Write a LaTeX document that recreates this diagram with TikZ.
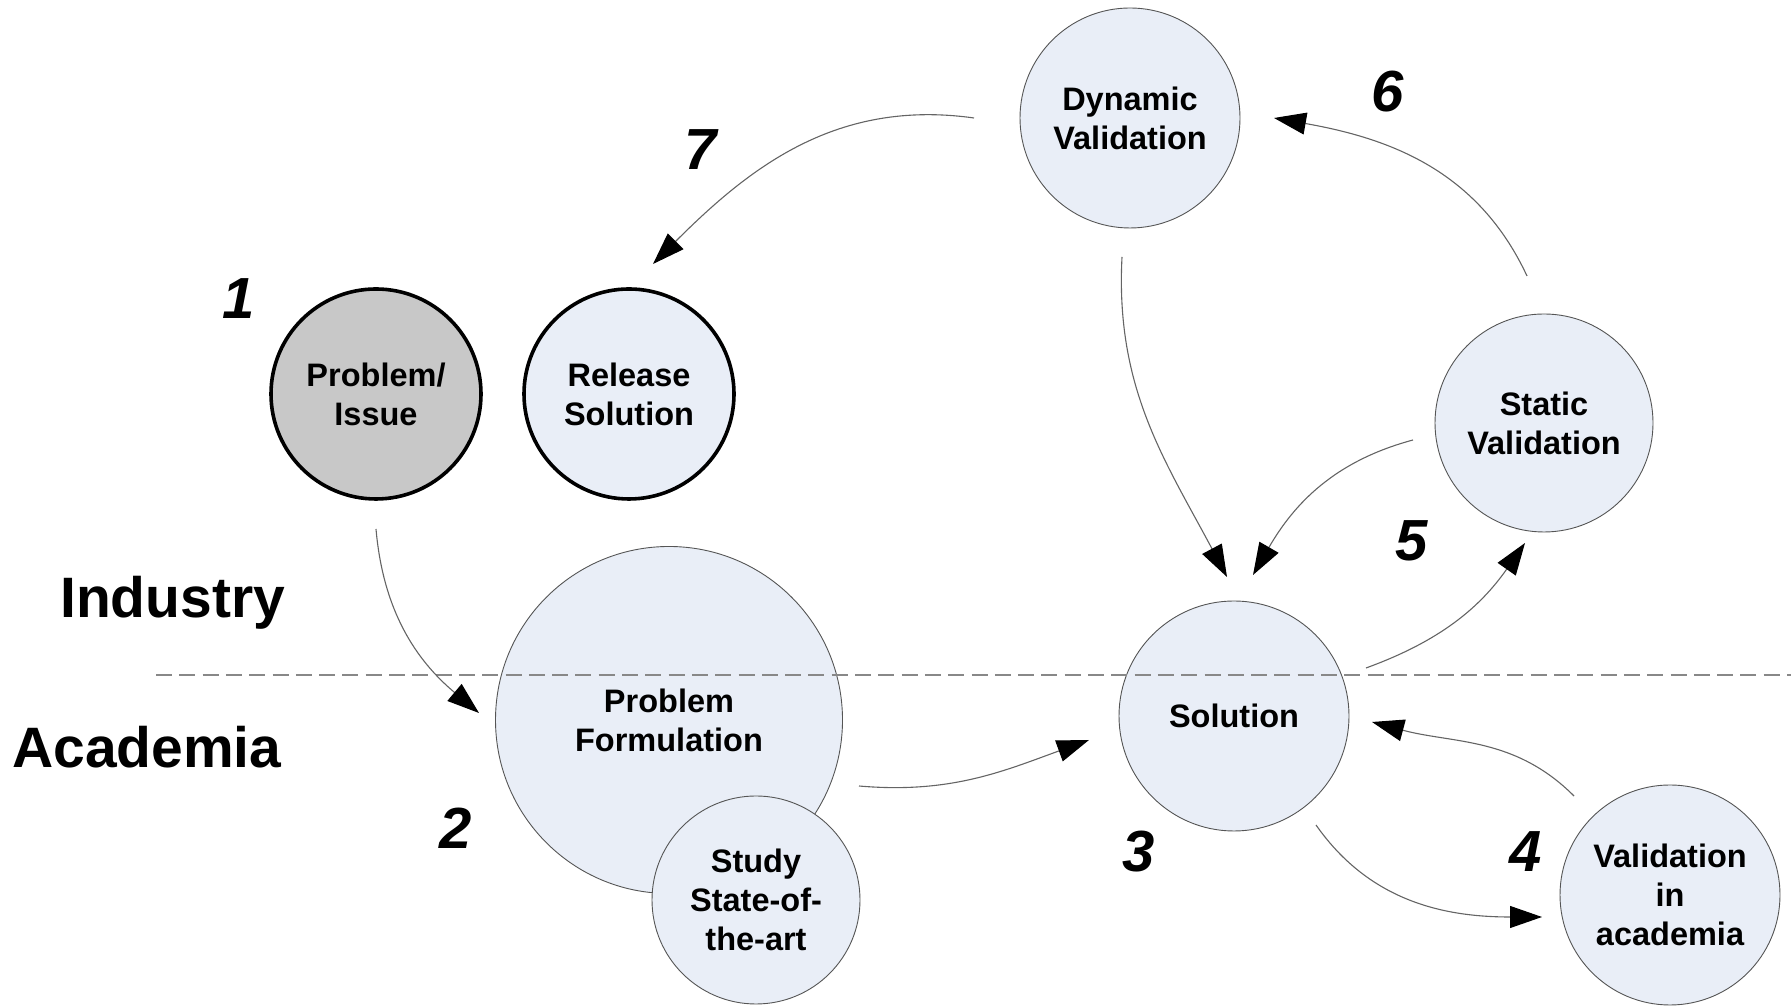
\documentclass[tikz,border=0pt]{standalone}
\usepackage{fontspec}
\setmainfont{Liberation Sans}
\usetikzlibrary{arrows.meta,calc}
\definecolor{cellfill}{RGB}{233,238,247}
\definecolor{issuefill}{RGB}{200,200,200}
\definecolor{rimgray}{RGB}{85,85,85}
\definecolor{linkgray}{RGB}{100,100,100}
\definecolor{splitgray}{RGB}{136,136,136}
\tikzset{
  phase/.style={circle, draw=rimgray, line width=0.9pt, fill=cellfill, inner sep=0pt,
    align=center, font=\fontsize{32.5}{39}\selectfont\bfseries},
  keyphase/.style={phase, draw=black, line width=3.6pt},
  stepno/.style={font=\fontsize{58}{58}\selectfont\bfseries\itshape, inner sep=0pt},
  realm/.style={font=\fontsize{57}{57}\selectfont\bfseries, inner sep=0pt, anchor=base west},
  link/.style={draw=linkgray, line width=1.1pt, -{Triangle[length=32pt,width=22pt,fill=black,color=black]}},
  split/.style={draw=splitgray, line width=2pt, dash pattern=on 16pt off 7.3pt}
}
\begin{document}
\begin{tikzpicture}[x=1pt,y=1pt]
\useasboundingbox (0,0) rectangle (1791,1008);

% process steps
\node[keyphase, fill=issuefill, minimum size=210pt] (issue) at (376,614) {Problem/\\Issue};
\node[keyphase, minimum size=210pt] (release) at (629,614) {Release\\Solution};
\node[phase, minimum size=220pt] (dyn) at (1130,890) {Dynamic\\Validation};
\node[phase, minimum size=218pt] (stat) at (1544,585) {Static\\Validation};
\node[phase, minimum size=230pt] (sol) at (1234,292) {Solution};
\node[phase, minimum size=220pt] (acad) at (1670,113) {Validation\\in\\academia};
\node[phase, minimum size=347pt] (form) at (669,288) {Problem\\Formulation};
\node[phase, minimum size=208pt] (sota) at (756,108) {Study\\State-of-\\the-art};

% boundary between the two realms
\draw[split] (156,333) -- (1791,333);
\node[realm] (ind) at (60,390) {Industry};
\node[realm] (aca) at (12,240) {Academia};

% step numbers
\node[stepno] (n1) at (239,709) {1};
\node[stepno] (n2) at (456,180) {2};
\node[stepno] (n3) at (1139,156) {3};
\node[stepno] (n4) at (1526,156) {4};
\node[stepno] (n5) at (1412,467) {5};
\node[stepno] (n6) at (1388,916) {6};
\node[stepno] (n7) at (701,858) {7};

% flow between steps, each end set off from its circle
\draw[link] ($(issue)+(0,-135)$) to[out=-85,in=140] ($(form)+(-190,7)$);
\draw[link] ($(form)+(190,-66)$) to[out=-5,in=200] ($(sol)+(-145,-24)$);
\draw[link] ($(sol)+(82,-109)$) to[out=-55,in=180] ($(acad)+(-128,-22)$);
\draw[link] ($(acad)+(-96,99)$) to[out=135,in=-15] ($(sol)+(138,-6)$);
\draw[link] ($(sol)+(132,48)$) to[out=20,in=235] ($(stat)+(-19,-120)$);
\draw[link] ($(stat)+(-17,147)$) to[out=115,in=-10] ($(dyn)+(144,0)$);
\draw[link] ($(dyn)+(-156,0)$) to[out=172,in=45] ($(release)+(24,130)$);
\draw[link] ($(dyn)+(-8,-139)$) to[out=-93,in=118] ($(sol)+(-7,139)$);
\draw[link] ($(stat)+(-131,-17)$) to[out=195,in=60] ($(sol)+(19,141)$);
\end{tikzpicture}
\end{document}
